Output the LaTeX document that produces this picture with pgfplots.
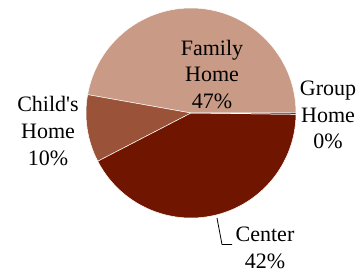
\documentclass[border=0pt]{standalone}
\usepackage{pgfplots}
\pgfplotsset{compat=1.18}
\usepackage{fontspec}
\setmainfont{Liberation Serif}[Ligatures=TeXOff]
\definecolor{famc}{RGB}{201,154,133}
\definecolor{chic}{RGB}{154,82,56}
\definecolor{cenc}{RGB}{112,21,0}
\definecolor{groc}{RGB}{90,20,0}
% shares in percent
\def\vFam{47.2}\def\vChi{10.4}\def\vCen{42.2}\def\vGro{0.2}
\pgfmathsetmacro{\aA}{3.6*\vFam}
\pgfmathsetmacro{\aB}{\aA+3.6*\vChi}
\pgfmathsetmacro{\aC}{\aB+3.6*\vCen}
\pgfmathsetmacro{\aD}{\aC+3.6*\vGro}
\begin{document}
\begin{tikzpicture}
\useasboundingbox (0,0) rectangle (363pt,273pt);
\begin{axis}[
  hide axis, scale only axis,
  x=1pt, y=1pt,
  xmin=0, xmax=363, ymin=0, ymax=273,
  clip=false,
]
\tikzset{slice/.style={draw=white, line width=0.5pt, line join=round}}
\fill[famc, slice] (axis cs:191,160) -- ++(0:105pt) arc[start angle=0, end angle=\aA, radius=105pt] -- cycle;
\fill[chic, slice] (axis cs:191,160) -- ++(\aA:105pt) arc[start angle=\aA, end angle=\aB, radius=105pt] -- cycle;
\fill[cenc, slice] (axis cs:191,160) -- ++(\aB:105pt) arc[start angle=\aB, end angle=\aC, radius=105pt] -- cycle;
\fill[groc, slice] (axis cs:191,160) -- ++(\aC:105pt) arc[start angle=\aC, end angle=\aD, radius=105pt] -- cycle;
\tikzset{lab/.style={align=center, inner sep=0pt, font=\fontsize{22}{26.6}\selectfont}}
\node[lab] at (axis cs:212,198.5) {Family\\Home\\47\%};
\node[lab] at (axis cs:48,142) {Child's\\Home\\10\%};
\node[lab] at (axis cs:328,158) {Group\\Home\\0\%};
\node[lab] at (axis cs:265,25) {Center\\42\%};
\draw[black, line width=0.8pt] (axis cs:217,55) -- (axis cs:222,28.5) -- (axis cs:232,28.5);
\end{axis}
\end{tikzpicture}
\end{document}
